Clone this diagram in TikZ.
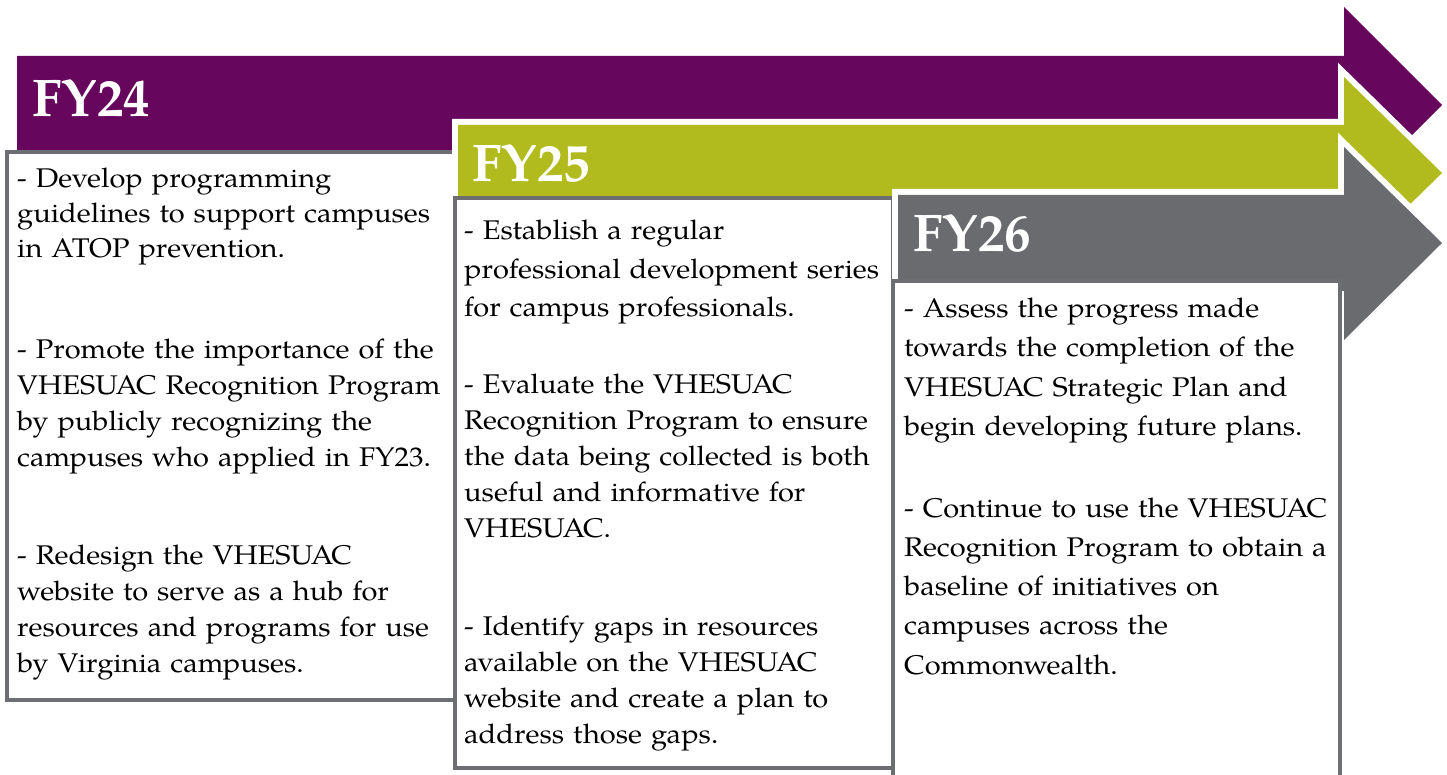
\documentclass[tikz,border=0pt]{standalone}
\usepackage{fontspec}
\setmainfont{texgyrepagella}[Extension=.otf, UprightFont=*-regular, BoldFont=*-bold, ItalicFont=*-italic, BoldItalicFont=*-bolditalic]
\newfontfamily\bodyfont{texgyrepagella}[Extension=.otf, UprightFont=*-regular, BoldFont=*-bold, FakeStretch=1.075]
\definecolor{fypurple}{HTML}{66065C}
\definecolor{fygreen}{HTML}{B2BB1E}
\definecolor{fygrey}{HTML}{6A6B6F}
\definecolor{boxline}{HTML}{6D6E71}
\tikzset{
  bandarrow/.style={fill=#1, preaction={draw=white, line width=12pt, line join=miter}},
  panel/.style={draw=boxline, line width=4.5pt, fill=white},
  yearlabel/.style={anchor=base west, inner sep=0pt, text=white, font=\fontsize{53}{60}\selectfont\bfseries},
  para/.style={anchor=base west, inner sep=0pt, align=left, text width=520pt, font=\bodyfont\fontsize{27}{#1}\selectfont},
}
\begin{document}
\begin{tikzpicture}[x=1pt,y=-1pt]
\useasboundingbox (0,0) rectangle (1447,775);
\clip (0,0) rectangle (1447,775);
% FY24
\fill[fypurple] (17,56) -- (1344,56) -- (1344,7) -- (1442,105) -- (1344,203) -- (1344,154) -- (17,154) -- cycle;
\node[yearlabel] (h24) at (32,117) {FY24};
\draw[panel] (7,152) rectangle (455,700);
\node[para=35] (p24a) at (17,188) {- Develop programming\\guidelines to support campuses\\in ATOP prevention.};
\node[para=36] (p24b) at (17,358) {- Promote the importance of the\\VHESUAC Recognition Program\\by publicly recognizing the\\campuses who applied in FY23.};
\node[para=36] (p24c) at (17,564) {- Redesign the VHESUAC\\website to serve as a hub for\\resources and programs for use\\by Virginia campuses.};
% FY25
\path[bandarrow=fygreen] (458,125) -- (1344,125) -- (1344,77) -- (1442,173) -- (1344,269) -- (1344,221) -- (458,221) -- cycle;
\node[yearlabel] (h25) at (472,182) {FY25};
\draw[panel] (455,198) rectangle (893,768);
\node[para=38.5] (p25a) at (464,240) {- Establish a regular\\professional development series\\for campus professionals.};
\node[para=36] (p25b) at (464,393) {- Evaluate the VHESUAC\\Recognition Program to ensure\\the data being collected is both\\useful and informative for\\VHESUAC.};
\node[para=36] (p25c) at (464,635) {- Identify gaps in resources\\available on the VHESUAC\\website and create a plan to\\address those gaps.};
% FY26
\path[bandarrow=fygrey] (898,195) -- (1344,195) -- (1344,147) -- (1442,243) -- (1344,340) -- (1344,291) -- (898,291) -- cycle;
\node[yearlabel] (h26) at (913,252) {FY26};
\draw[panel] (893,281) rectangle (1340,830);
\node[para=39.5] (p26a) at (904,317) {- Assess the progress made\\towards the completion of the\\VHESUAC Strategic Plan and\\begin developing future plans.};
\node[para=39.3] (p26b) at (904,517) {- Continue to use the VHESUAC\\Recognition Program to obtain a\\baseline of initiatives on\\campuses across the\\Commonwealth.};
\end{tikzpicture}
\end{document}
